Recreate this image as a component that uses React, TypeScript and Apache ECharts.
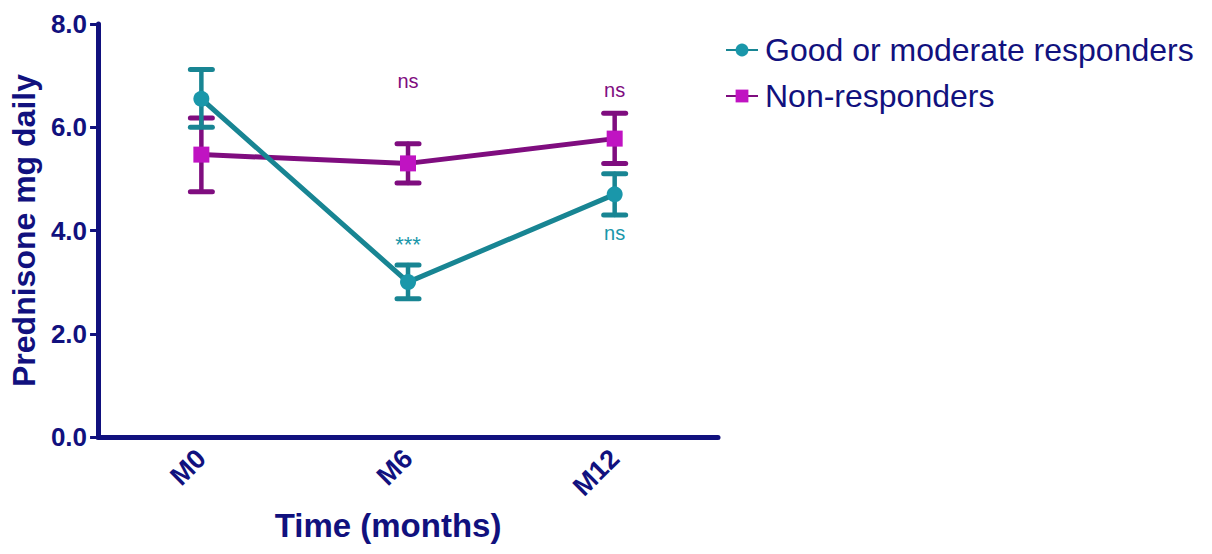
import React, { useEffect, useRef } from "react";
import * as echarts from "echarts";

// Time points
const categories = ["M0", "M6", "M12"];
const yTicks = [0, 2, 4, 6, 8];

// Good or moderate responders: mean and error bounds
const goodMean = [6.55, 3.0, 4.7];
const goodLow = [6.0, 2.68, 4.3];
const goodHigh = [7.12, 3.33, 5.1];

// Non-responders: mean and error bounds
const nonMean = [5.47, 5.3, 5.78];
const nonLow = [4.75, 4.92, 5.3];
const nonHigh = [6.18, 5.68, 6.27];

// Significance annotations: [category index, y value, text, group]
const annotations: [number, number, string, "good" | "non"][] = [
  [1, 6.9, "ns", "non"],
  [1, 3.72, "***", "good"],
  [2, 6.72, "ns", "non"],
  [2, 3.95, "ns", "good"],
];

const FONT = "Liberation Sans, Arial, sans-serif";
const NAVY = "#11117e";
const TEAL_LINE = "#188593";
const TEAL_MARK = "#1a97aa";
const PURPLE_LINE = "#7f0d7f";
const PURPLE_MARK = "#c013c2";

function errorBarSeries(low: number[], high: number[], color: string) {
  return {
    type: "custom",
    silent: true,
    z: 3,
    data: low.map((l, i) => [i, l, high[i]]),
    renderItem: (params: any, api: any) => {
      const x = api.value(0);
      const lo = api.coord([x, api.value(1)]);
      const hi = api.coord([x, api.value(2)]);
      const half = 11;
      const st = { stroke: color, lineWidth: 5, lineCap: "round" };
      return {
        type: "group",
        children: [
          { type: "line", shape: { x1: lo[0], y1: lo[1], x2: hi[0], y2: hi[1] }, style: { ...st, lineWidth: 4.5 } },
          { type: "line", shape: { x1: lo[0] - half, y1: lo[1], x2: lo[0] + half, y2: lo[1] }, style: st },
          { type: "line", shape: { x1: hi[0] - half, y1: hi[1], x2: hi[0] + half, y2: hi[1] }, style: st },
        ],
      };
    },
  };
}

export default function App() {
  const ref = useRef<HTMLDivElement>(null);

  useEffect(() => {
    if (!ref.current) return;
    const chart = echarts.init(ref.current, undefined, { renderer: "svg" });
    chart.setOption({
      animation: false,
      backgroundColor: "#ffffff",
      grid: { left: 97, right: 494, top: 24, bottom: 117, containLabel: false },
      legend: {
        orient: "vertical",
        left: 720,
        top: 29,
        itemGap: 14,
        itemWidth: 32,
        itemHeight: 16,
        textStyle: { fontFamily: FONT, fontSize: 32, color: NAVY, padding: [0, 0, 0, 2] },
        data: ["Good or moderate responders", "Non-responders"],
      },
      xAxis: {
        type: "category",
        data: categories,
        boundaryGap: true,
        name: "Time (months)",
        nameLocation: "middle",
        nameGap: 72,
        nameTextStyle: {
          fontFamily: FONT,
          fontWeight: "bold",
          fontSize: 33,
          color: NAVY,
          padding: [0, 40, 0, 0],
        },
        axisLine: { lineStyle: { color: NAVY, width: 5 } },
        axisTick: { alignWithLabel: true, length: 7, lineStyle: { color: NAVY, width: 4, cap: "round" } },
        axisLabel: {
          rotate: 45,
          margin: 17,
          fontFamily: FONT,
          fontWeight: "bold",
          fontSize: 27,
          color: NAVY,
        },
      },
      yAxis: {
        type: "value",
        min: 0,
        max: 8,
        interval: 2,
        name: "Prednisone mg daily",
        nameLocation: "middle",
        nameGap: 56,
        nameTextStyle: { fontFamily: FONT, fontWeight: "bold", fontSize: 32, color: NAVY },
        axisLine: { show: true, lineStyle: { color: NAVY, width: 5 } },
        axisTick: { show: true, length: 8, lineStyle: { color: NAVY, width: 3 } },
        splitLine: { show: false },
        axisLabel: {
          margin: 11,
          fontFamily: FONT,
          fontWeight: "bold",
          fontSize: 26,
          color: NAVY,
          formatter: (v: number) => (yTicks.includes(v) ? v.toFixed(1) : ""),
        },
      },
      series: [
        errorBarSeries(nonLow, nonHigh, PURPLE_LINE),
        errorBarSeries(goodLow, goodHigh, TEAL_LINE),
        {
          name: "Non-responders",
          type: "line",
          z: 4,
          data: nonMean,
          symbol: "rect",
          symbolSize: 16,
          lineStyle: { color: PURPLE_LINE, width: 5 },
          itemStyle: { color: PURPLE_MARK },
        },
        {
          name: "Good or moderate responders",
          type: "line",
          z: 5,
          data: goodMean,
          symbol: "circle",
          symbolSize: 16,
          lineStyle: { color: TEAL_LINE, width: 5 },
          itemStyle: { color: TEAL_MARK },
        },
        {
          type: "custom",
          silent: true,
          z: 6,
          data: annotations.map((a) => [a[0], a[1]]),
          renderItem: (params: any, api: any) => {
            const a = annotations[params.dataIndex];
            const p = api.coord([a[0], a[1]]);
            return {
              type: "text",
              x: p[0],
              y: p[1],
              style: {
                text: a[2],
                fill: a[3] === "good" ? TEAL_MARK : PURPLE_LINE,
                fontFamily: FONT,
                fontSize: a[2] === "***" ? 22 : 20,
                align: "center",
                verticalAlign: "middle",
              },
            };
          },
        },
      ],
    });
    return () => chart.dispose();
  }, []);

  return (
    <div
      ref={ref}
      style={{ position: "fixed", left: 0, top: 0, width: 1212, height: 554 }}
    />
  );
}
